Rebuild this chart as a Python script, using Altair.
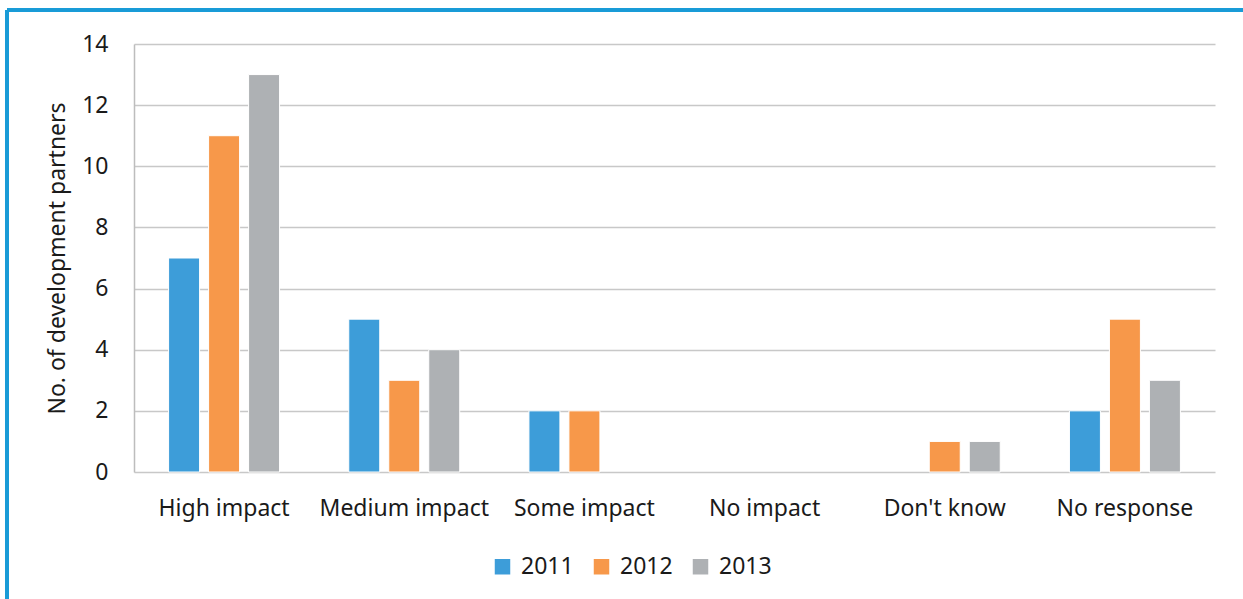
import altair as alt
import pandas as pd

categories = ["High impact", "Medium impact", "Some impact", "No impact", "Don't know", "No response"]
years = ["2011", "2012", "2013"]
v2011 = [7, 5, 2, 0, 0, 2]
v2012 = [11, 3, 2, 0, 1, 5]
v2013 = [13, 4, 0, 0, 1, 3]
colors = ["#3d9dd9", "#f7984a", "#aeb1b4"]

rows = []
for y, vals in zip(years, [v2011, v2012, v2013]):
    for c, v in zip(categories, vals):
        rows.append({"category": c, "year": y, "value": v})
df = pd.DataFrame(rows)

FONT = "Noto Sans"
FS = 23

bars = alt.Chart(df).transform_filter("datum.value > 0").mark_bar(
    stroke="white", strokeWidth=1
).encode(
    x=alt.X("category:N", sort=categories,
            scale=alt.Scale(domain=categories, paddingInner=0, paddingOuter=0),
            axis=alt.Axis(title=None, labelAngle=0, ticks=False, domain=False,
                          labelFontSize=FS, labelPadding=25, labelColor="#1a1a1a",
                          labelFont=FONT)),
    xOffset=alt.XOffset("year:N", sort=years,
                        scale=alt.Scale(domain=years, paddingInner=0.225, paddingOuter=0.865)),
    y=alt.Y("value:Q", scale=alt.Scale(domain=[0, 14]),
            axis=alt.Axis(title="No. of development partners", values=list(range(0, 15, 2)),
                          ticks=False, domain=True, domainColor="#bdbdbd", domainWidth=1.5,
                          grid=True, gridColor="#c8c8c8", gridWidth=1.5,
                          labelFontSize=FS, labelPadding=26, labelColor="#1a1a1a",
                          labelFont=FONT, titleFont=FONT, titleFontSize=FS,
                          titleFontWeight="normal", titleColor="#1a1a1a", titlePadding=12)),
    color=alt.Color("year:N", sort=years, scale=alt.Scale(domain=years, range=colors),
                    legend=alt.Legend(title=None, orient="none", direction="horizontal",
                                      legendX=357, legendY=511, symbolType="square",
                                      symbolSize=240, symbolStrokeWidth=0,
                                      labelFontSize=FS, labelFont=FONT, labelColor="#1a1a1a",
                                      columnPadding=16, labelOffset=7)),
)

frame_top = alt.Chart(df).mark_rule(color="#1a9ad6", strokeWidth=2.5).encode(
    x=alt.value(-127), x2=alt.value(1200), y=alt.value(-34))
frame_left = alt.Chart(df).mark_rule(color="#1a9ad6", strokeWidth=2.5).encode(
    x=alt.value(-127), y=alt.value(-34), y2=alt.value(600))

chart = alt.layer(bars, frame_top, frame_left).properties(
    width=1081, height=428,
    autosize=alt.AutoSizeParams(type="none"),
    padding={"left": 134, "top": 44, "right": 28, "bottom": 127},
    background="white",
).configure_view(stroke=None)

chart.save("out.html", embed_options={"renderer": "svg", "actions": False})
